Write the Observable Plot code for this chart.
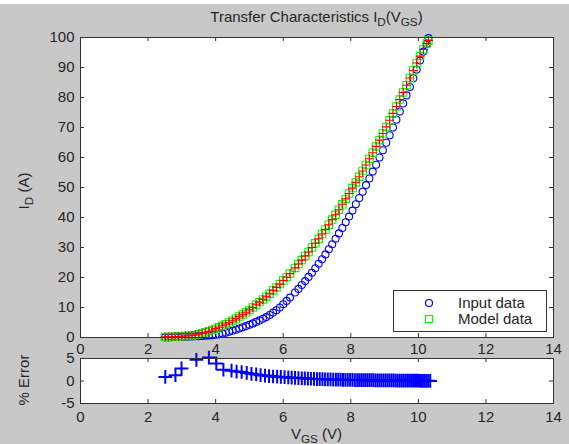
<!DOCTYPE html>
<html><head><meta charset="utf-8">
<script src="https://cdn.jsdelivr.net/npm/d3@7"></script>
<script src="https://cdn.jsdelivr.net/npm/@observablehq/plot@0.6"></script>
<style>
html,body{margin:0;padding:0;}
body{width:569px;height:444px;background:#c8c8c8;position:relative;overflow:hidden;font-family:"Liberation Sans",Arial,sans-serif;color:#262626;}
.abs{position:absolute;}
#band{left:0;top:0;width:569px;height:4px;background:#fff;}
#title{left:80px;width:473px;top:8px;text-align:center;font-size:15px;line-height:17px;white-space:nowrap;}
.rot{transform:translate(-50%,-50%) rotate(-90deg);white-space:nowrap;font-size:15px;line-height:17px;}
#xlab{left:80px;width:473px;top:426px;text-align:center;font-size:15px;line-height:16px;white-space:nowrap;}
sub{font-size:0.78em;vertical-align:-0.35em;line-height:0;}
#legend{left:393px;top:290px;width:154px;height:42px;box-sizing:border-box;background:#fff;border:1px solid #333;font-size:15px;}
#legend .row{position:absolute;left:0;width:150px;height:16px;line-height:16px;}
#legend .txt{position:absolute;left:64px;top:0;white-space:nowrap;}
#legend svg{position:absolute;left:28px;top:0;}
</style></head>
<body>
<div id="band" class="abs"></div>
<div id="title" class="abs">Transfer Characteristics I<sub>D</sub>(V<sub>GS</sub>)</div>
<div id="topplot" class="abs" style="left:0;top:0;"></div>
<div id="errplot" class="abs" style="left:0;top:340px;"></div>
<div class="abs rot" style="left:23px;top:191px;">I<sub>D</sub> (A)</div>
<div class="abs rot" style="left:23px;top:380px;">% Error</div>
<div id="xlab" class="abs">V<sub>GS</sub> (V)</div>
<div id="legend" class="abs">
  <div class="row" style="top:4px;"><svg width="14" height="16"><circle cx="7" cy="8" r="3.5" fill="none" stroke="#0000ff" stroke-width="1.2"/></svg><span class="txt">Input data</span></div>
  <div class="row" style="top:20px;"><svg width="14" height="16"><rect x="3.5" y="4.5" width="7" height="7" fill="none" stroke="#00ff00" stroke-width="1.2"/></svg><span class="txt">Model data</span></div>
</div>
<script>
// ---- data ----
const xTicks = [0, 2, 4, 6, 8, 10, 12, 14];
const yTicksTop = [0, 10, 20, 30, 40, 50, 60, 70, 80, 90, 100];
const yTicksErr = [-5, 0, 5];

const vgs = [2.5,2.6,2.7,2.8,2.9,3.0,3.1,3.2,3.3,3.4,3.5,3.6,3.7,3.8,3.9,4.0,
  4.1,4.2,4.3,4.4,4.5,4.6,4.7,4.8,4.9,5.0,5.1,5.2,5.3,5.4,5.5,5.6,5.7,5.8,5.9,6.0,6.1,6.2,
  6.35,6.45,6.55,6.65,6.75,6.85,6.95,7.05,7.15,7.25,7.35,7.45,7.55,7.65,7.75,7.85,7.95,8.05,8.15,8.25,8.35,8.45,8.55,8.65,8.75,8.85,8.95,9.05,9.15,9.25,9.35,9.45,9.55,9.65,9.75,9.85,9.95,10.05,10.15,10.25,10.3];

const inputId = [0.1,0.1,0.15,0.15,0.2,0.2,0.25,0.3,0.35,0.4,0.45,0.5,0.6,0.7,0.8,0.9,
  1.1,1.3,1.6,1.9,2.25,2.6,3.0,3.4,3.8,4.25,4.7,5.2,5.7,6.25,6.8,7.5,8.3,9.1,10.0,11.1,12.2,13.3,
  15.0,16.2,17.5,18.8,20.2,21.6,23.1,24.6,26.1,27.7,29.4,31.1,32.9,34.7,36.5,38.4,40.3,42.3,44.4,46.5,48.6,50.8,53.0,55.3,57.6,60.0,62.4,64.9,67.4,70.0,72.6,75.3,78.0,80.7,83.5,86.4,89.3,92.3,95.3,97.8,99.8];

const modelId = [0.2,0.2,0.25,0.3,0.35,0.4,0.5,0.6,0.7,0.85,1.1,1.4,1.75,2.1,2.5,2.95,
  3.4,3.9,4.45,5.0,5.6,6.3,7.0,7.7,8.4,9.2,10.0,10.9,11.8,12.7,13.6,14.6,15.7,16.7,17.8,19.0,20.1,21.3,
  23.2,24.5,25.8,27.2,28.5,30.0,31.4,32.9,34.5,36.0,37.6,39.3,40.9,42.6,44.4,46.2,48.0,49.8,51.7,53.6,55.5,57.5,59.6,61.6,63.7,65.8,68.0,70.2,72.4,74.7,77.0,79.3,81.7,84.1,86.5,89.0,91.5,93.8,96.0,98.0,99.0];

const errPoints = [[2.51,0.9],[2.81,1.3],[2.99,2.8],[3.43,4.7],[3.80,5.2],[4.02,3.9],[4.23,2.5],[4.47,2.3],[4.62,2.1],[4.77,2.0],[4.92,1.8],[5.06,1.6],[5.20,1.45],[5.33,1.3],[5.46,1.2],[5.58,1.1],[5.70,1.0],[5.82,0.95],[5.93,0.9],[6.04,0.85],[6.15,0.8],[6.25,0.75],[6.35,0.7],[6.45,0.65],[6.55,0.6],[6.64,0.57],[6.73,0.54],[6.82,0.5],[6.91,0.47],[7.00,0.44],[7.08,0.42],[7.16,0.4],[7.24,0.38],[7.32,0.36],[7.40,0.34],[7.48,0.32],[7.56,0.3],[7.63,0.29],[7.70,0.28],[7.77,0.27],[7.84,0.26],[7.91,0.25],[7.98,0.24],[8.05,0.23],[8.12,0.22],[8.19,0.21],[8.25,0.2],[8.31,0.2],[8.37,0.19],[8.43,0.19],[8.49,0.18],[8.55,0.18],[8.61,0.17],[8.67,0.17],[8.73,0.16],[8.79,0.16],[8.85,0.15],[8.91,0.15],[8.97,0.14],[9.03,0.14],[9.09,0.13],[9.15,0.13],[9.21,0.12],[9.27,0.12],[9.33,0.11],[9.39,0.11],[9.45,0.1],[9.51,0.1],[9.57,0.09],[9.63,0.09],[9.69,0.08],[9.75,0.08],[9.81,0.07],[9.87,0.07],[9.93,0.06],[9.99,0.06],[10.05,0.05],[10.11,0.05],[10.17,0.04],[10.23,0.04],[10.29,0.03],[10.35,0.02]];

// ---- build ----
if (vgs.length !== inputId.length || vgs.length !== modelId.length) console.error("length mismatch", vgs.length, inputId.length, modelId.length);
const topData = vgs.map((v, i) => ({v, input: inputId[i], model: modelId[i]}));
const errData = errPoints.map(([v, e]) => ({v, e}));

const axisColor = "#333";
const style = {background: "transparent", fontFamily: "'Liberation Sans', Arial, sans-serif", fontSize: "15px", color: "#262626", overflow: "visible"};
const W = 569, mL = 80, mR = 16;
const plotW = W - mL - mR;
const tk = 4;

function ticksMarks(yTicks, plotH, xPad) {
  return [
    Plot.ruleX(xTicks, {x: d => d, insetTop: plotH - tk, stroke: axisColor}),
    Plot.ruleX(xTicks, {x: d => d, insetBottom: plotH - tk, stroke: axisColor}),
    Plot.ruleY(yTicks, {y: d => d, insetRight: plotW - tk, stroke: axisColor}),
    Plot.ruleY(yTicks, {y: d => d, insetLeft: plotW - tk, stroke: axisColor}),
    Plot.axisX({ticks: xTicks, tickSize: 0, tickPadding: xPad, label: null, tickFormat: d => String(d)}),
    Plot.axisY({ticks: yTicks, tickSize: 0, tickPadding: 6, label: null, tickFormat: d => String(d)})
  ];
}

const topH = 360, topMT = 37, topMB = 23;
const topPlot = Plot.plot({
  width: W, height: topH,
  marginLeft: mL, marginRight: mR, marginTop: topMT, marginBottom: topMB,
  x: {domain: [0, 14]}, y: {domain: [0, 100]},
  style,
  marks: [
    Plot.frame({fill: "white", stroke: null}),
    ...ticksMarks(yTicksTop, topH - topMT - topMB, 6),
    Plot.dot(topData, {x: "v", y: "input", symbol: "circle", r: 3.5, stroke: "#0000ff", strokeWidth: 1.1}),
    Plot.dot(topData, {x: "v", y: "model", symbol: "square", r: 4.2, stroke: "#00ff00", strokeWidth: 1.1}),
    Plot.dot(topData, {x: "v", y: "model", symbol: "plus", r: 3, stroke: "#ff0000", strokeWidth: 1.1}),
    Plot.frame({stroke: axisColor, fill: null})
  ]
});
document.getElementById("topplot").appendChild(topPlot);

const errH = 80, errMT = 18, errMB = 17;
const errPlot = Plot.plot({
  width: W, height: errH,
  marginLeft: mL, marginRight: mR, marginTop: errMT, marginBottom: errMB,
  x: {domain: [0, 14]}, y: {domain: [-5, 5]},
  style,
  marks: [
    Plot.frame({fill: "white", stroke: null}),
    ...ticksMarks(yTicksErr, errH - errMT - errMB, 8),
    Plot.dot(errData, {x: "v", y: "e", symbol: "plus", r: 4.5, stroke: "#0000ff", strokeWidth: 2}),
    Plot.frame({stroke: axisColor, fill: null})
  ]
});
document.getElementById("errplot").appendChild(errPlot);
</script>
</body></html>
